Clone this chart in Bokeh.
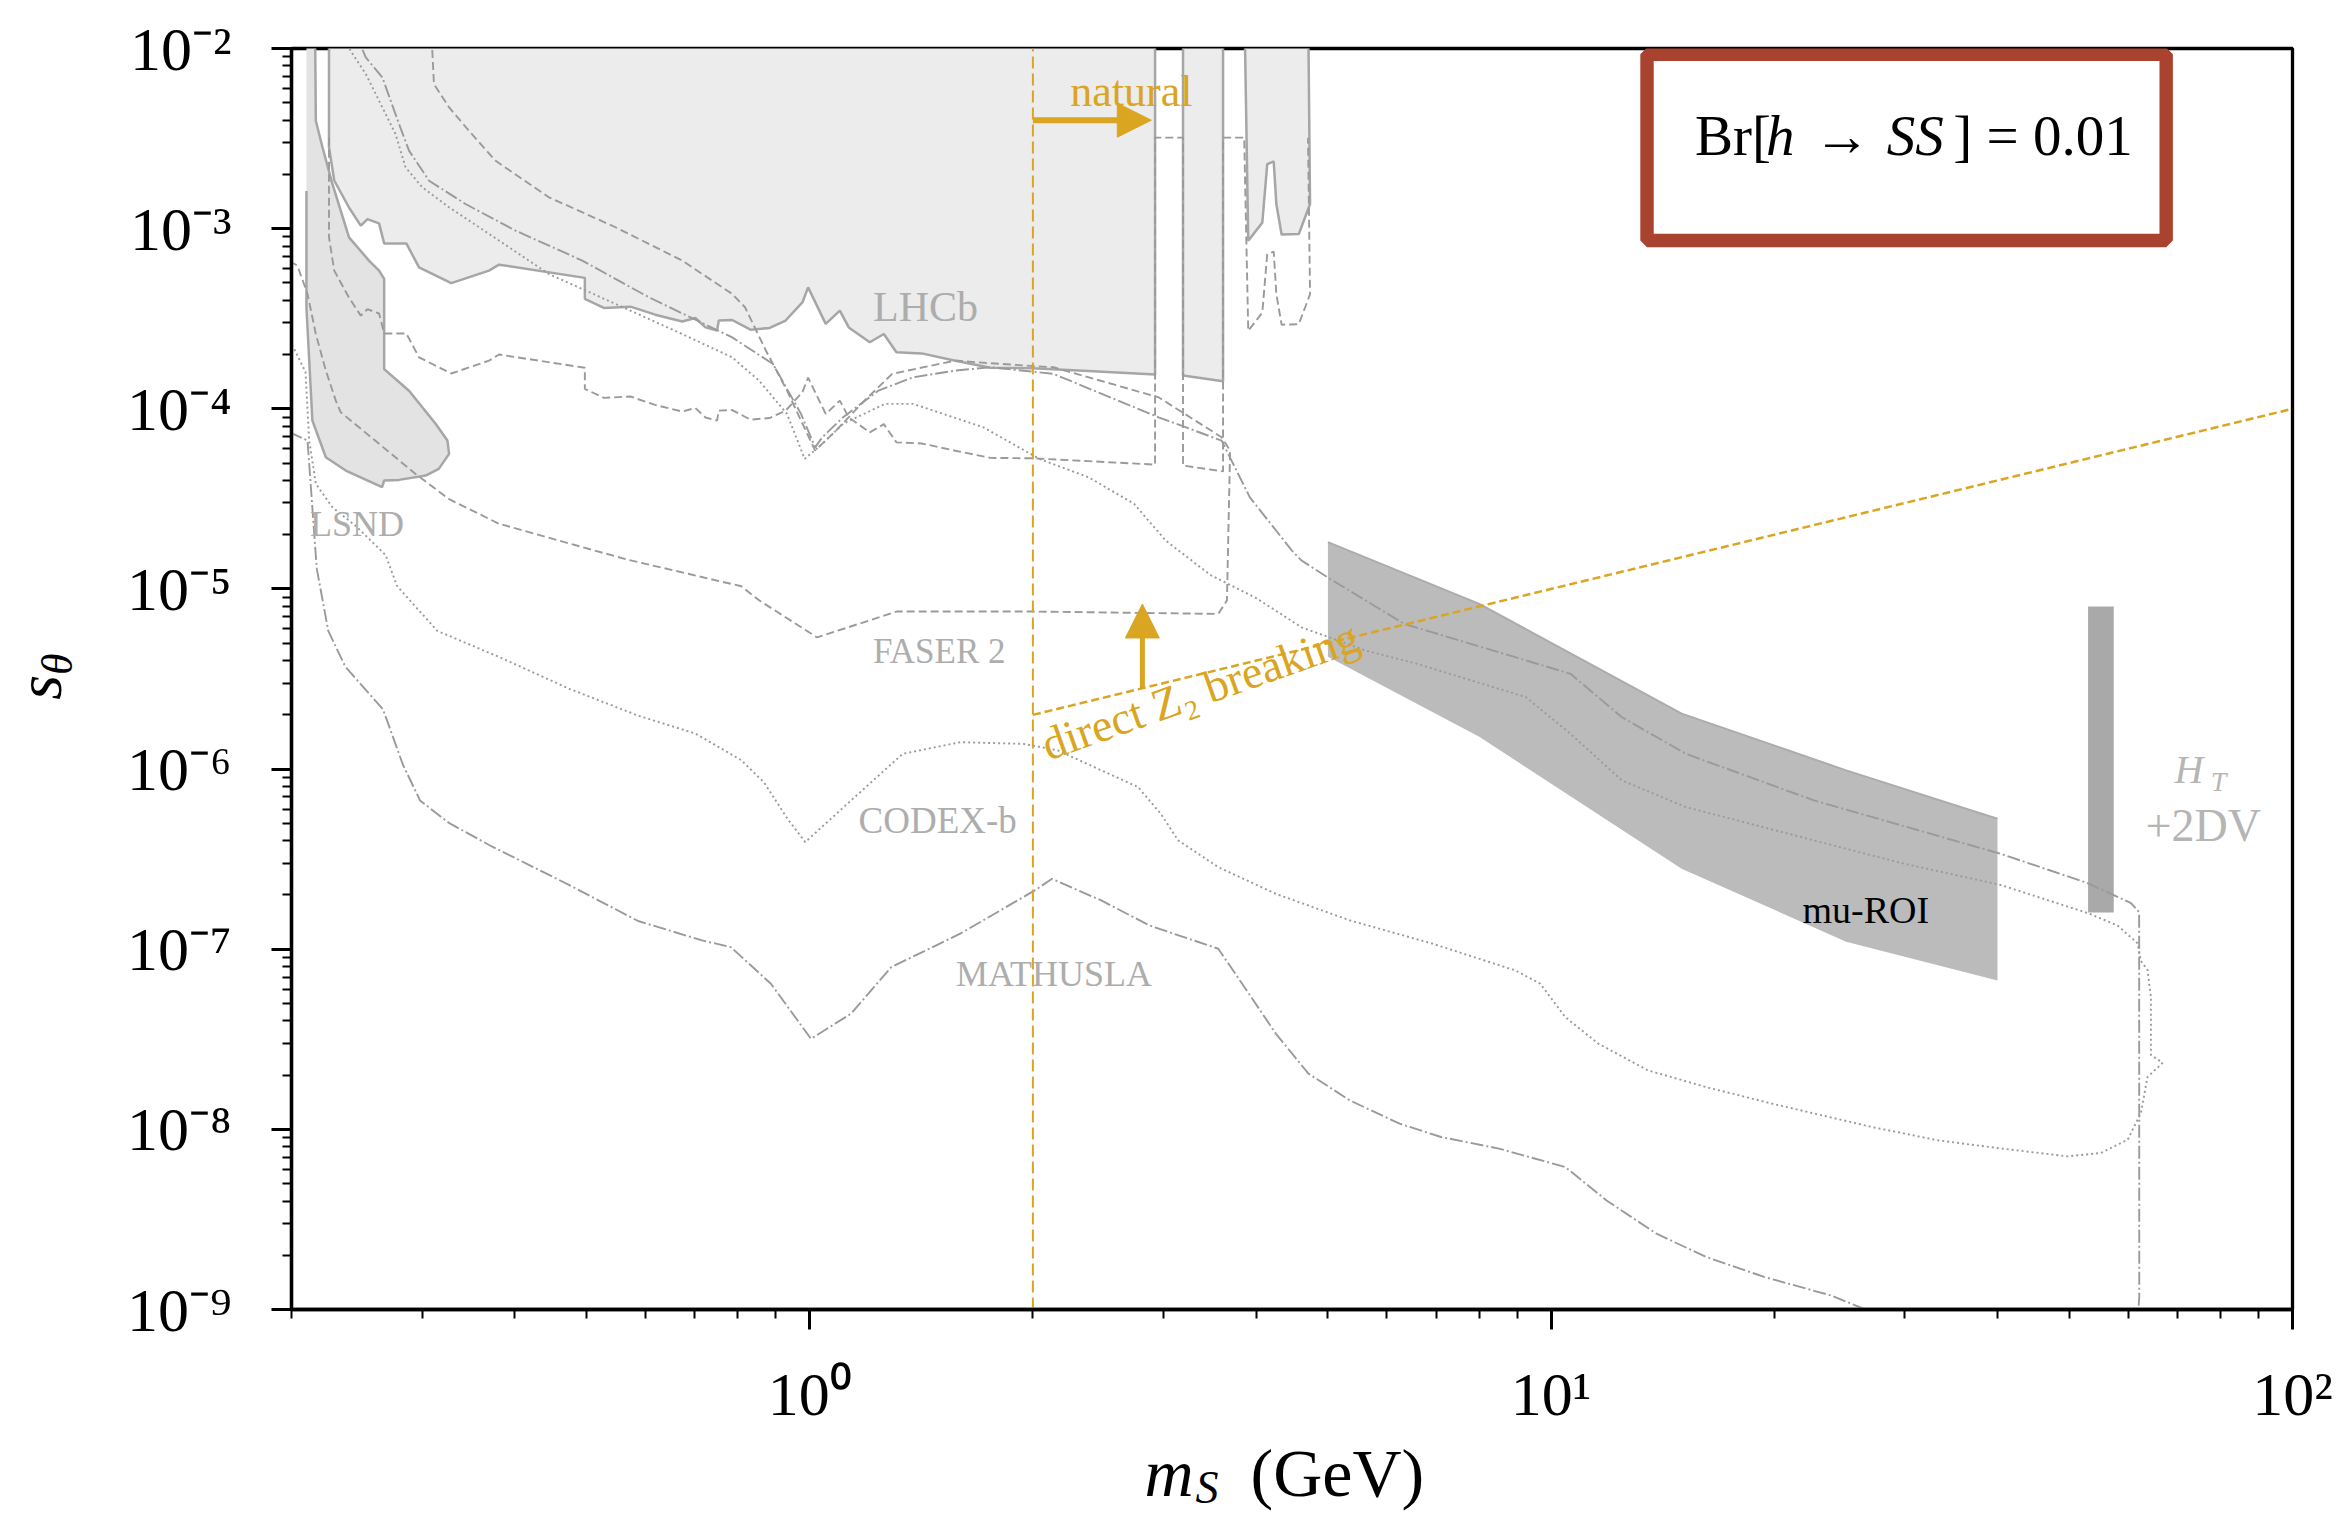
from bokeh.plotting import figure
from bokeh.layouts import row, column
from bokeh.models import Label, Arrow, NormalHead, CustomJSTickFormatter, FixedTicker, Range1d
from bokeh.core.properties import value
from bokeh.embed import file_html
from bokeh.resources import INLINE

# ------------------------------------------------------------------ data
X_TICKS = [1, 10, 100]
X_TICK_LABELS = ["10⁰", "10¹", "10²"]
Y_TICKS = [1e-9, 1e-8, 1e-7, 1e-6, 1e-5, 1e-4, 1e-3, 1e-2]
Y_TICK_LABELS = ["10⁻⁹", "10⁻⁸", "10⁻⁷", "10⁻⁶", "10⁻⁵", "10⁻⁴", "10⁻³", "10⁻²"]
X_MINOR = [0.2, 0.3, 0.4, 0.5, 0.6, 0.7, 0.8, 0.9, 2, 3, 4, 5, 6, 7, 8, 9,
           20, 30, 40, 50, 60, 70, 80, 90]
Y_MINOR = [k * 10.0 ** e for e in range(-9, -2) for k in range(2, 10)]

# LHCb excluded region (three pieces)
LHCB_MAIN = [(0.2247, 2e-2), (0.2247, 2.83e-3), (0.2284, 1.85e-3), (0.2391, 1.31e-3),
             (0.2480, 1.04e-3), (0.2532, 1.13e-3), (0.2625, 1.07e-3), (0.2667, 8.28e-4),
             (0.2857, 8.28e-4), (0.2972, 6.1e-4), (0.3285, 4.98e-4), (0.3693, 5.85e-4),
             (0.381, 6.31e-4), (0.4974, 5.33e-4), (0.4974, 4.07e-4), (0.5277, 3.63e-4),
             (0.573, 3.69e-4), (0.619, 3.33e-4), (0.673, 3.05e-4), (0.701, 3.19e-4),
             (0.7235, 2.83e-4), (0.75, 2.72e-4), (0.754, 3.09e-4), (0.786, 3.11e-4),
             (0.832, 2.75e-4), (0.883, 2.81e-4), (0.928, 3.09e-4), (0.978, 3.91e-4),
             (0.995, 4.72e-4), (1.051, 2.96e-4), (1.098, 3.51e-4), (1.129, 2.83e-4),
             (1.205, 2.34e-4), (1.259, 2.6e-4), (1.309, 2.06e-4), (1.416, 2.03e-4),
             (1.572, 1.85e-4), (1.753, 1.69e-4), (1.997, 1.68e-4), (2.377, 1.62e-4),
             (2.923, 1.55e-4), (2.923, 2e-2)]
LHCB_STRIP = [(3.188, 2e-2), (3.188, 1.53e-4), (3.61, 1.42e-4), (3.61, 2e-2)]
LHCB_RIGHT = [(3.855, 2e-2), (3.904, 8.57e-4), (4.078, 1.08e-3), (4.141, 2.28e-3),
              (4.225, 2.36e-3), (4.26, 1.37e-3), (4.33, 9.27e-4), (4.568, 9.34e-4),
              (4.73, 1.37e-3), (4.70, 2e-2)]

# LHCb projection (dashed)
LHCB_PROJ = [(0.2247, 3.2e-3), (0.2247, 8.95e-4), (0.2284, 5.85e-4), (0.2391, 4.14e-4),
             (0.2480, 3.29e-4), (0.2532, 3.57e-4), (0.2625, 3.38e-4), (0.2667, 2.62e-4),
             (0.2857, 2.62e-4), (0.2972, 1.93e-4), (0.3285, 1.57e-4), (0.3693, 1.85e-4),
             (0.381, 2.0e-4), (0.4974, 1.69e-4), (0.4974, 1.29e-4), (0.5277, 1.15e-4),
             (0.573, 1.17e-4), (0.619, 1.05e-4), (0.673, 9.65e-5), (0.701, 1.01e-4),
             (0.7235, 8.95e-5), (0.75, 8.6e-5), (0.754, 9.77e-5), (0.786, 9.84e-5),
             (0.832, 8.7e-5), (0.883, 8.89e-5), (0.928, 9.77e-5), (0.978, 1.24e-4),
             (0.995, 1.49e-4), (1.051, 9.36e-5), (1.098, 1.11e-4), (1.129, 8.95e-5),
             (1.205, 7.4e-5), (1.259, 8.22e-5), (1.309, 6.51e-5), (1.416, 6.42e-5),
             (1.572, 5.85e-5), (1.753, 5.34e-5), (1.997, 5.31e-5), (2.377, 5.12e-5),
             (2.923, 4.9e-5), (2.923, 3.2e-3), (3.188, 3.2e-3), (3.188, 4.84e-5),
             (3.61, 4.49e-5), (3.61, 3.2e-3), (3.855, 3.2e-3), (3.904, 2.71e-4),
             (4.078, 3.42e-4), (4.141, 7.21e-4), (4.225, 7.46e-4), (4.26, 4.33e-4),
             (4.33, 2.93e-4), (4.568, 2.95e-4), (4.73, 4.33e-4), (4.70, 3.2e-3)]

# LSND region outline (stroked part) ; fill closes it to the top
LSND_EDGE = [(0.215, 2e-2), (0.2157, 3.97e-3), (0.2202, 2.83e-3), (0.2271, 1.77e-3),
             (0.2391, 8.95e-4), (0.2544, 6.65e-4), (0.2625, 5.85e-4), (0.2667, 5.26e-4),
             (0.2667, 1.66e-4), (0.2881, 1.26e-4), (0.3129, 8.25e-5), (0.3246, 6.66e-5),
             (0.3263, 5.62e-5), (0.316, 4.64e-5), (0.3034, 4.26e-5), (0.2793, 4.03e-5),
             (0.2667, 4.0e-5), (0.265, 3.67e-5), (0.2367, 4.54e-5), (0.2225, 5.38e-5),
             (0.2134, 8.61e-5), (0.2095, 3.65e-4), (0.2095, 1.62e-3)]
LSND_TOP_LEFT = [(0.2095, 2e-2)]

# FASER 2 (dashed)
FASER2 = [(0.199, 6.6e-4), (0.2037, 6.23e-4), (0.2102, 4.34e-4), (0.2157, 2.6e-4),
          (0.2225, 1.63e-4), (0.2295, 1.11e-4), (0.233, 9.57e-5), (0.2598, 6.62e-5),
          (0.294, 4.35e-5), (0.3263, 3.15e-5), (0.381, 2.3e-5), (0.4589, 1.855e-5),
          (0.566, 1.459e-5), (0.8085, 1.035e-5), (0.8554, 8.62e-6), (1.023, 5.38e-6),
          (1.31, 7.49e-6), (1.994, 7.49e-6), (3.557, 7.27e-6), (3.654, 8.62e-6),
          (3.69, 5.86e-5), (3.594, 6.95e-5), (2.955, 1.158e-4), (2.132, 1.7e-4),
          (1.753, 1.789e-4), (1.572, 1.852e-4), (1.292, 1.563e-4), (1.185, 1.108e-4),
          (1.085, 7.57e-5), (1.017, 5.86e-5), (0.9319, 1.262e-4), (0.873, 2.1e-4),
          (0.818, 3.66e-4), (0.786, 4.34e-4), (0.6729, 6.65e-4), (0.5471, 1.018e-3),
          (0.4448, 1.493e-3), (0.377, 2.38e-3), (0.3471, 3.49e-3), (0.3263, 4.71e-3),
          (0.3113, 6.35e-3), (0.3097, 9.72e-3), (0.3097, 1.15e-2)]

# CODEX-b (dotted)
CODEXB = [(0.199, 2.4e-4), (0.2089, 1.6e-4), (0.2113, 6.66e-5), (0.2157, 3.83e-5),
          (0.2271, 2.84e-5), (0.2444, 2.23e-5), (0.2679, 1.54e-5), (0.2777, 1.035e-5),
          (0.3146, 5.85e-6), (0.3826, 4.16e-6), (0.474, 2.79e-6), (0.5868, 1.98e-6),
          (0.7013, 1.575e-6), (0.8085, 1.12e-6), (0.8683, 8.4e-7), (0.9324, 5.33e-7),
          (0.9862, 3.93e-7), (1.137, 6.7e-7), (1.335, 1.215e-6), (1.596, 1.41e-6),
          (1.942, 1.38e-6), (2.16, 1.27e-6), (2.773, 7.94e-7), (2.976, 5.64e-7),
          (3.14, 4.02e-7), (3.557, 2.855e-7), (4.253, 2.03e-7), (5.354, 1.445e-7),
          (6.92, 1.073e-7), (8.952, 7.62e-8), (9.672, 6.43e-8), (10.45, 4.2e-8),
          (11.58, 2.99e-8), (13.51, 2.125e-8), (16.19, 1.716e-8), (19.88, 1.388e-8),
          (27.07, 1.031e-8), (33.25, 8.69e-9), (40.45, 7.83e-9), (49.76, 7.08e-9),
          (55.18, 7.4e-9), (59.95, 8.77e-9), (62.46, 1.236e-8), (63.74, 1.95e-8),
          (66.8, 2.34e-8), (64.42, 2.59e-8), (64.42, 5.44e-8), (63.74, 7.67e-8),
          (62.46, 8.59e-8), (61.8, 1.079e-7), (58.07, 1.354e-7), (52.9, 1.589e-7),
          (40.45, 2.27e-7), (29.65, 3.01e-7), (22.62, 4.02e-7), (15.2, 6.15e-7),
          (12.46, 8.65e-7), (10.62, 1.57e-6), (9.244, 2.51e-6), (6.592, 3.84e-6),
          (5.622, 4.55e-6), (4.607, 6.12e-6), (3.996, 8.93e-6), (3.477, 1.19e-5),
          (3.021, 1.855e-5), (2.738, 2.97e-5), (2.377, 4.17e-5), (2.041, 5.27e-5),
          (1.715, 7.89e-5), (1.379, 1.065e-4), (1.264, 1.065e-4), (1.109, 8.25e-5),
          (1.04, 6.39e-5), (0.9844, 5.27e-5), (0.9319, 9.37e-5), (0.8543, 1.434e-4),
          (0.786, 1.93e-4), (0.6729, 2.6e-4), (0.5471, 3.82e-4), (0.4448, 5.6e-4),
          (0.381, 8.59e-4), (0.3263, 1.314e-3), (0.3002, 1.696e-3), (0.285, 2.19e-3),
          (0.2763, 3.35e-3), (0.2652, 4.71e-3), (0.2519, 7.22e-3), (0.2403, 9.72e-3),
          (0.2357, 1.15e-2)]

# MATHUSLA (dash-dot)
MATHUSLA = [(0.199, 7.4e-5), (0.2102, 6.66e-5), (0.2163, 1.3e-5), (0.2242, 5.85e-6),
            (0.2364, 3.7e-6), (0.2657, 2.15e-6), (0.2827, 1.057e-6), (0.2981, 6.7e-7),
            (0.326, 5.03e-7), (0.3694, 3.79e-7), (0.474, 2.27e-7), (0.5868, 1.434e-7),
            (0.7158, 1.119e-7), (0.7828, 1.027e-7), (0.8865, 6.43e-8), (1.004, 3.18e-8),
            (1.137, 4.39e-8), (1.288, 7.95e-8), (1.596, 1.22e-7), (2.012, 2.12e-7),
            (2.122, 2.46e-7), (2.473, 1.866e-7), (2.873, 1.354e-7), (3.557, 1.006e-7),
            (3.831, 6.43e-8), (4.253, 3.4e-8), (4.706, 2.04e-8), (5.354, 1.447e-8),
            (6.247, 1.075e-8), (7.104, 9.07e-9), (8.504, 7.82e-9), (10.45, 6.18e-9),
            (11.88, 4.03e-9), (13.87, 2.635e-9), (16.19, 1.957e-9), (19.38, 1.516e-9),
            (23.81, 1.199e-9), (26.38, 1.011e-9), (29.3, 7.8e-10), (61.9, 7.8e-10),
            (61.97, 1.0e-9), (62.13, 1.174e-9), (62.11, 1.608e-7), (60.55, 1.803e-7),
            (52.9, 2.33e-7), (40.45, 3.38e-7), (22.62, 6.7e-7), (15.2, 1.215e-6),
            (12.46, 1.94e-6), (10.62, 3.38e-6), (6.335, 6.4e-6), (4.989, 1.163e-5),
            (4.607, 1.437e-5), (4.471, 1.633e-5), (3.922, 3.23e-5), (3.594, 6.66e-5),
            (2.955, 8.97e-5), (2.132, 1.563e-4), (1.753, 1.7e-4), (1.572, 1.63e-4),
            (1.379, 1.496e-4), (1.238, 1.262e-4), (1.109, 8.97e-5), (1.04, 6.95e-5),
            (1.017, 6.11e-5), (0.9734, 9.37e-5), (0.8923, 1.772e-4), (0.786, 2.49e-4),
            (0.6068, 4.16e-4), (0.4934, 6.65e-4), (0.401, 9.75e-4), (0.3434, 1.37e-3),
            (0.3066, 1.845e-3), (0.2881, 2.71e-3), (0.2793, 3.81e-3), (0.2652, 6.91e-3),
            (0.2519, 8.92e-3), (0.2469, 1.08e-2)]

# mu-ROI band
ROI_M = [5, 8, 15, 25, 40]
ROI_HI = [1.82e-5, 8.26e-6, 2.03e-6, 9.84e-7, 5.3e-7]
ROI_LO = [4.2e-6, 1.51e-6, 2.8e-7, 1.1e-7, 6.71e-8]

# H_T + 2DV bar
HT_M = (53.0, 57.4)
HT_S = (1.6e-7, 8.0e-6)

# theory lines
NATURAL_M = 2.0
Z2_M = [2.0, 100.0]
Z2_S = [2.0e-6, 1.0e-4]

# ------------------------------------------------------------------ styles
GOLD = "#DAA520"
LINE_GRAY = "#9a9a9a"
EDGE_GRAY = "#a6a6a6"
TXT_GRAY = "#adadad"
SERIF = "Liberation Serif"

W, H = 2341, 1513
LEFT_W = 100         # strip for the y title
BOTTOM_H = 80        # strip for the x title (full width)
MAIN_W, MAIN_H = W - LEFT_W, H - BOTTOM_H
FRAME_LEFT, FRAME_RIGHT, FRAME_TOP, FRAME_BOTTOM = 291, 2292, 48, 1309


def xy(pairs):
    return [a for a, _ in pairs], [b for _, b in pairs]


p = figure(width=MAIN_W, height=MAIN_H, x_axis_type="log", y_axis_type="log",
           x_range=Range1d(0.2, 100), y_range=Range1d(1e-9, 1e-2),
           output_backend="svg", toolbar_location=None,
           min_border_left=FRAME_LEFT - LEFT_W, min_border_right=W - FRAME_RIGHT,
           min_border_top=FRAME_TOP, min_border_bottom=MAIN_H - FRAME_BOTTOM)
p.grid.visible = False
p.background_fill_color = "white"
p.border_fill_color = "white"
p.outline_line_color = "black"
p.outline_line_width = 3.3

fmt_code = """
let best = 0, bd = Infinity;
for (let i = 0; i < vals.length; i++) {
  const d = Math.abs(Math.log10(vals[i]) - Math.log10(tick));
  if (d < bd) { bd = d; best = i; }
}
return labs[best];
"""
p.xaxis.ticker = FixedTicker(ticks=X_TICKS, minor_ticks=X_MINOR)
p.yaxis.ticker = FixedTicker(ticks=Y_TICKS, minor_ticks=Y_MINOR)
p.xaxis.formatter = CustomJSTickFormatter(args=dict(vals=X_TICKS, labs=X_TICK_LABELS), code=fmt_code)
p.yaxis.formatter = CustomJSTickFormatter(args=dict(vals=Y_TICKS, labs=Y_TICK_LABELS), code=fmt_code)
for ax in (p.xaxis[0], p.yaxis[0]):
    ax.axis_line_width = 3.3
    ax.axis_line_color = "black"
    ax.major_tick_out = 20
    ax.major_tick_in = 0
    ax.minor_tick_out = 9
    ax.minor_tick_in = 0
    ax.major_tick_line_width = 3
    ax.minor_tick_line_width = 2
    ax.major_tick_line_color = "black"
    ax.minor_tick_line_color = "black"
    ax.major_label_text_font = SERIF
    ax.major_label_text_font_size = "62px"
    ax.major_label_text_color = "black"
p.xaxis.major_label_standoff = 30
p.yaxis.major_label_standoff = 40

# ---- filled regions
mx, sy = xy(LHCB_MAIN)
p.patch(mx, sy, fill_color="#ececec", line_color=EDGE_GRAY, line_width=2.5)
for piece in (LHCB_STRIP, LHCB_RIGHT):
    mx, sy = xy(piece)
    p.patch(mx, sy, fill_color="#ececec", line_color=EDGE_GRAY, line_width=2.5)

mx, sy = xy(LSND_EDGE + LSND_TOP_LEFT)
p.patch(mx, sy, fill_color="#e3e3e3", line_color=None)
mx, sy = xy(LSND_EDGE)
p.line(mx, sy, line_color=EDGE_GRAY, line_width=2.5)

roi_x = ROI_M + ROI_M[::-1]
roi_y = ROI_HI + ROI_LO[::-1]
p.patch(roi_x, roi_y, fill_color="#bbbbbb", line_color=None)
p.line(ROI_M, ROI_HI, line_color="#acacac", line_width=2)

p.quad(left=HT_M[0], right=HT_M[1], bottom=HT_S[0], top=HT_S[1],
       fill_color="#a9a9a9", line_color=None)

# ---- projection curves
mx, sy = xy(LHCB_PROJ)
p.line(mx, sy, line_color=LINE_GRAY, line_width=1.9, line_dash="8 4")
mx, sy = xy(FASER2)
p.line(mx, sy, line_color=LINE_GRAY, line_width=1.9, line_dash="8 4")
mx, sy = xy(CODEXB)
p.line(mx, sy, line_color=LINE_GRAY, line_width=1.9, line_dash="2 3")
mx, sy = xy(MATHUSLA)
p.line(mx, sy, line_color=LINE_GRAY, line_width=1.9, line_dash="13 3 2 3")

# ---- theory lines
p.line([NATURAL_M, NATURAL_M], [1e-9, 1e-2], line_color=GOLD, line_width=2, line_dash="12 5")
p.line(Z2_M, Z2_S, line_color=GOLD, line_width=2.5, line_dash="8 4")

p.add_layout(Arrow(end=NormalHead(size=34, fill_color=GOLD, line_color=GOLD, line_width=1),
                   x_start=2.0, y_start=4.0e-3, x_end=2.889, y_end=4.0e-3,
                   line_color=GOLD, line_width=6))
p.add_layout(Arrow(end=NormalHead(size=34, fill_color=GOLD, line_color=GOLD, line_width=1),
                   x_start=2.81, y_start=2.78e-6, x_end=2.81, y_end=8.25e-6,
                   line_color=GOLD, line_width=5))

# ---- Br box
p.quad(left=13.47, right=67.55, bottom=8.59e-4, top=9.3e-3,
       fill_color="white", line_color="#A9432F", line_width=13.4)


def lab(x, y, text, size, color=TXT_GRAY, style="normal", align="center", angle=0.0):
    p.add_layout(Label(x=x, y=y, text=text,
                       text_font=SERIF, text_font_size=size, text_color=color,
                       text_font_style=style, text_align=align,
                       text_baseline="middle", angle=angle))


# Br[h -> SS] = 0.01 with the math symbols in italics
BR_Y = 3.29e-3
lab(15.63, BR_Y, "Br[", "57px", color="black", align="left")
lab(19.49, BR_Y, "h", "57px", color="black", style="italic", align="left")
lab(24.67, BR_Y, "→", "57px", color="black")
lab(28.35, BR_Y, "SS", "57px", color="black", style="italic", align="left")
lab(34.88, BR_Y, "] = 0.01", "57px", color="black", align="left")

lab(1.433, 3.69e-4, "LHCb", "42px")
lab(0.2452, 2.28e-5, "LSND", "36px")
lab(1.495, 4.49e-6, "FASER 2", "35px")
lab(1.488, 5.17e-7, "CODEX-b", "37px")
lab(2.136, 7.28e-8, "MATHUSLA", "36px")
lab(26.57, 1.65e-7, "mu-ROI", "38px", color="black")
lab(72.5, 9.9e-7, "H", "40px", color="#b5b5b5", style="italic")
lab(79.5, 8.5e-7, "T", "28px", color="#b5b5b5", style="italic")
lab(75.8, 4.88e-7, "+2DV", "46px", color="#b5b5b5")
lab(2.716, 5.77e-3, "natural", "44px", color=GOLD)
lab(2.066, 1.342e-6, "direct Z₂ breaking", "46px", color=GOLD, align="left", angle=0.34)


# ---- axis titles in thin side strips (pixel coordinates of the strip)
def strip(width, height):
    f = figure(width=width, height=height, x_range=Range1d(0, width),
               y_range=Range1d(0, height), output_backend="svg",
               toolbar_location=None, min_border=0,
               x_axis_location=None, y_axis_location=None)
    f.grid.visible = False
    f.outline_line_color = None
    f.background_fill_color = "white"
    f.border_fill_color = "white"
    return f


def title_text(f, x, y, text, size, style="normal", angle=0.0):
    f.text(x=[x], y=[y], text=[text], angle=angle,
           text_font=value(SERIF), text_font_style=style, text_font_size=size,
           text_color="black", text_align="left", text_baseline="middle")


left = strip(LEFT_W, MAIN_H)
title_text(left, 39, MAIN_H - 740, "s", "64px", style="italic", angle=1.5708)
title_text(left, 57, MAIN_H - 712, "θ", "44px", style="italic", angle=1.5708)

bottom = strip(W, BOTTOM_H)
title_text(bottom, 1144, 41, "m", "68px", style="italic")
title_text(bottom, 1195, 26, "S", "46px", style="italic")
title_text(bottom, 1250, 41, "(GeV)", "68px")

layout = column(row(left, p, spacing=0), bottom, spacing=0)
open("out.html", "w").write(file_html(layout, INLINE))
